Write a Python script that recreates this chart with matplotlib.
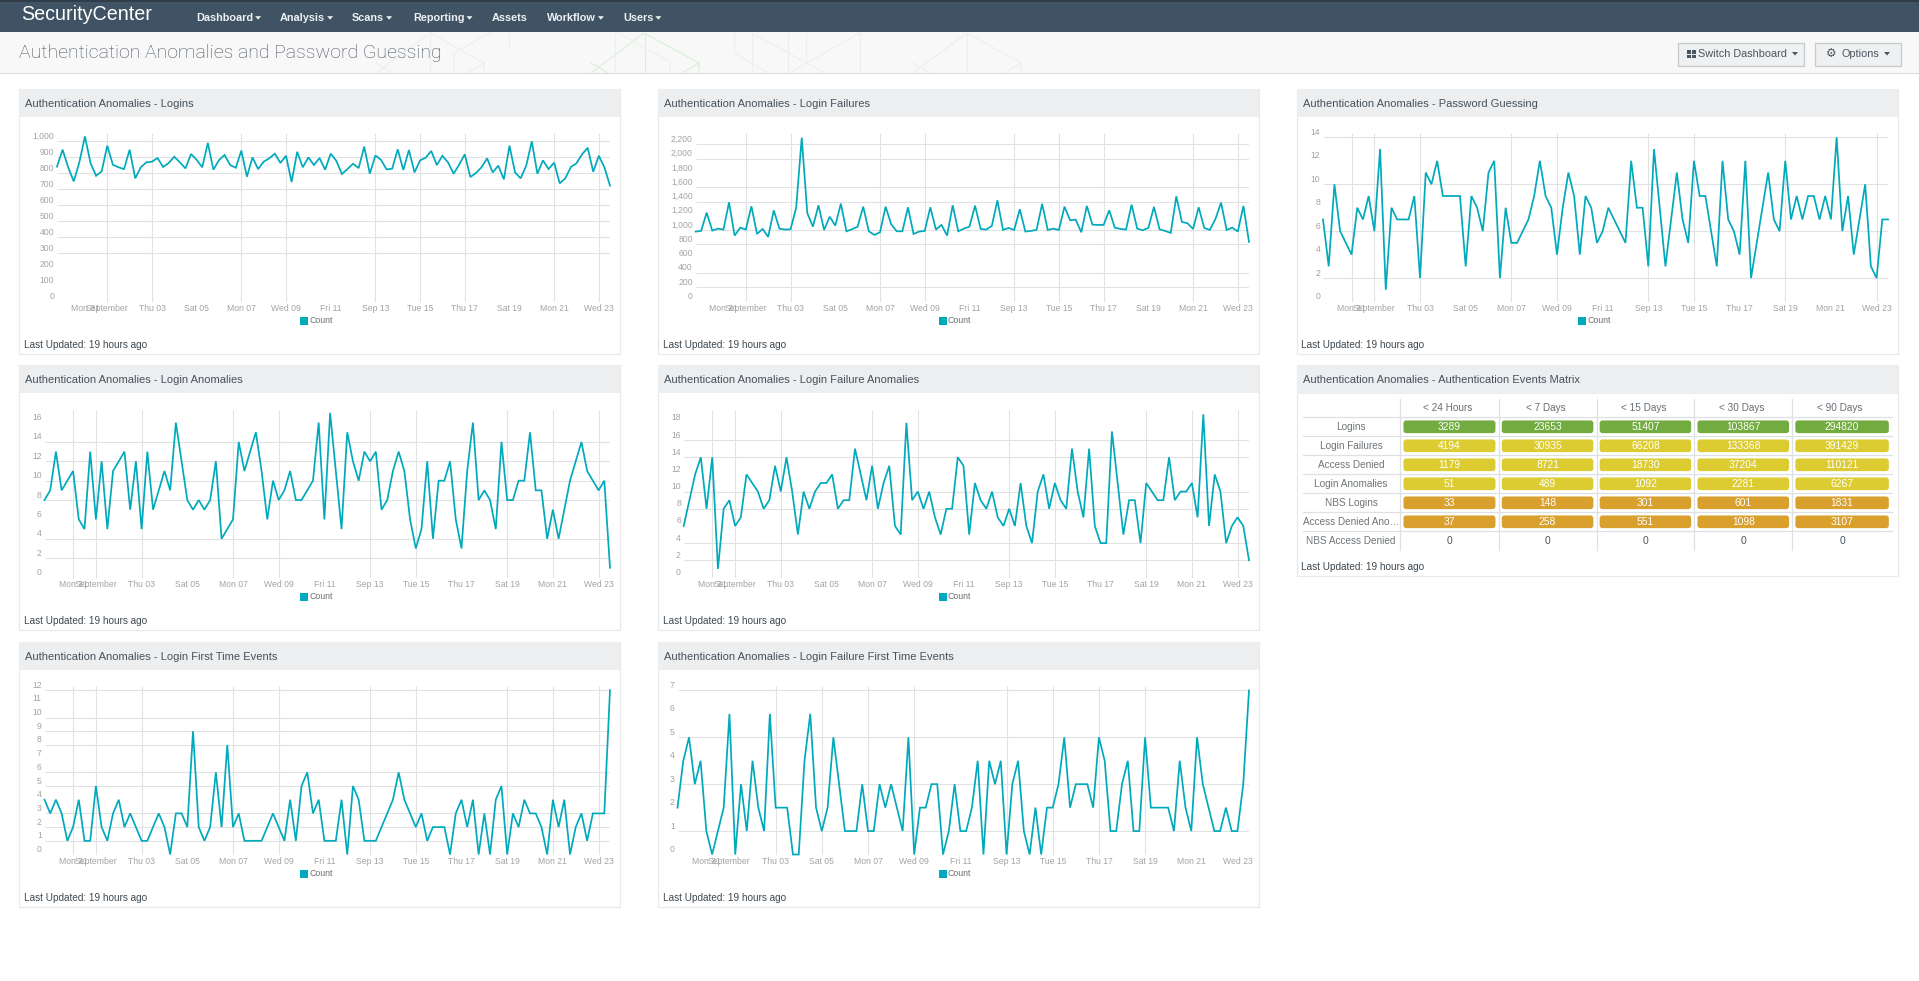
import matplotlib
matplotlib.use('Agg')
import matplotlib.pyplot as plt
from matplotlib.patches import Rectangle, FancyBboxPatch
from matplotlib.transforms import ScaledTranslation
import pandas as pd

plt.rcParams['font.family'] = ['Liberation Sans', 'DejaVu Sans']

W, H = 1919, 981

# 6 hour samples
times = pd.date_range('2015-08-29 18:00', periods=100, freq='6h')

logins = [842, 948, 838, 750, 869, 1031, 865, 785, 813, 973, 854, 838, 827, 948, 769, 838, 869, 873, 896, 840,
          865, 904, 869, 831, 921, 885, 838, 990, 823, 883, 915, 852, 835, 942, 779, 900, 827, 873, 894, 923,
          865, 910, 746, 935, 838, 900, 852, 896, 823, 923, 879, 796, 827, 860, 833, 967, 798, 912, 885, 825,
          829, 950, 821, 946, 806, 881, 898, 940, 852, 910, 869, 798, 854, 919, 777, 802, 838, 894, 806, 848,
          763, 973, 806, 769, 848, 1000, 798, 881, 827, 867, 738, 769, 840, 863, 919, 960, 810, 910, 838, 723]
login_failures = [979, 988, 1244, 993, 1020, 1007, 1389, 923, 1034, 1007, 1333, 946, 1016, 904, 1277, 1020, 1007, 1011, 1310, 2293,
                  1235, 1048, 1347, 1002, 1188, 1062, 1370, 983, 1011, 1048, 1328, 983, 932, 969, 1328, 1081, 983, 983, 1319, 946,
                  979, 988, 1319, 1007, 1072, 923, 1347, 983, 1020, 1048, 1342, 1016, 1007, 1058, 1417, 1002, 1030, 1002, 1291, 979,
                  988, 1002, 1366, 1002, 1020, 1002, 1328, 1137, 1146, 969, 1338, 1076, 1072, 1072, 1277, 1034, 1016, 1007, 1356, 1020,
                  997, 1030, 1324, 1011, 988, 960, 1473, 1114, 1095, 1016, 1319, 1030, 1002, 1156, 1384, 1002, 1034, 979, 1338, 834]
password_guessing = [7, 3, 10, 6, 5, 4, 8, 7, 9, 6, 13, 1, 8, 7, 7, 7, 9, 2, 11, 10,
                     12, 9, 9, 9, 9, 3, 9, 8, 6, 11, 12, 2, 8, 5, 5, 6, 7, 9, 12, 9,
                     8, 4, 8, 11, 9, 4, 9, 8, 5, 6, 8, 7, 6, 5, 12, 8, 8, 3, 13, 8,
                     3, 7, 11, 7, 5, 12, 9, 9, 6, 3, 12, 7, 6, 4, 12, 2, 5, 8, 11, 7,
                     6, 12, 7, 9, 7, 9, 9, 7, 9, 7, 14, 6, 9, 4, 7, 10, 3, 2, 7, 7]
login_anomalies = [8, 9, 13, 9, 10, 11, 6, 5, 13, 6, 12, 5, 11, 12, 13, 7, 12, 5, 13, 7,
                   9, 11, 9, 16, 12, 8, 7, 8, 7, 8, 12, 4, 5, 6, 14, 11, 13, 15, 11, 6,
                   10, 8, 9, 11, 8, 8, 9, 10, 16, 6, 17, 11, 5, 15, 12, 10, 13, 12, 13, 7,
                   8, 11, 13, 11, 6, 3, 5, 12, 4, 10, 10, 12, 6, 3, 11, 16, 8, 9, 8, 5,
                   14, 8, 8, 10, 10, 15, 9, 9, 4, 7, 4, 7, 10, 12, 14, 11, 10, 9, 10, 1]
failure_anomalies = [6, 9, 12, 14, 8, 14, 1, 8, 9, 6, 7, 12, 11, 10, 8, 9, 13, 10, 14, 10,
                     5, 10, 8, 10, 11, 11, 12, 8, 9, 9, 15, 12, 9, 13, 8, 11, 13, 6, 5, 18,
                     9, 10, 8, 10, 7, 5, 8, 8, 14, 13, 5, 11, 9, 8, 10, 7, 6, 8, 6, 11,
                     6, 4, 10, 12, 8, 11, 9, 8, 15, 10, 7, 15, 6, 4, 4, 17, 11, 5, 9, 9,
                     4, 11, 10, 9, 9, 14, 9, 10, 10, 11, 7, 19, 6, 12, 10, 4, 6, 7, 6, 2]
login_first_time = [4, 3, 4, 3, 1, 2, 4, 1, 1, 5, 2, 1, 3, 4, 2, 3, 2, 1, 1, 2,
                    3, 2, 0, 3, 3, 2, 9, 2, 1, 2, 6, 2, 8, 2, 3, 1, 1, 1, 1, 2,
                    3, 2, 1, 4, 1, 5, 6, 3, 4, 1, 1, 1, 4, 0, 5, 4, 1, 1, 1, 2,
                    3, 4, 6, 4, 3, 2, 3, 1, 2, 2, 2, 0, 3, 4, 2, 4, 0, 3, 0, 4,
                    5, 0, 3, 2, 4, 3, 3, 2, 0, 4, 2, 4, 0, 2, 3, 1, 3, 3, 3, 12]
failure_first_time = [2, 4, 5, 3, 4, 1, 0, 1, 2, 6, 0, 3, 1, 4, 2, 1, 6, 2, 2, 2,
                      0, 0, 4, 6, 2, 1, 2, 5, 3, 1, 1, 1, 3, 1, 1, 3, 2, 3, 2, 1,
                      5, 0, 2, 2, 3, 3, 0, 1, 3, 1, 1, 2, 4, 0, 4, 3, 4, 0, 3, 4,
                      1, 0, 2, 0, 2, 2, 3, 5, 2, 3, 3, 3, 2, 5, 4, 1, 1, 3, 4, 1,
                      1, 5, 2, 2, 2, 2, 1, 4, 2, 1, 5, 3, 2, 1, 1, 2, 1, 1, 3, 7]

x_tick_days = ['2015-08-31', '2015-09-01', '2015-09-03', '2015-09-05', '2015-09-07', '2015-09-09', '2015-09-11',
               '2015-09-13', '2015-09-15', '2015-09-17', '2015-09-19', '2015-09-21', '2015-09-23']
x_tick_labels = ['Mon 31', 'September', 'Thu 03', 'Sat 05', 'Mon 07', 'Wed 09', 'Fri 11',
                 'Sep 13', 'Tue 15', 'Thu 17', 'Sat 19', 'Mon 21', 'Wed 23']

# row labels and counts of the matrix
matrix_cols = ['< 24 Hours', '< 7 Days', '< 15 Days', '< 30 Days', '< 90 Days']
matrix_rows = ['Logins', 'Login Failures', 'Access Denied', 'Login Anomalies', 'NBS Logins',
               'Access Denied Ano…', 'NBS Access Denied']
logins_counts = [3289, 23653, 51407, 103867, 294820]
failures_counts = [4194, 30935, 66208, 133368, 391429]
denied_counts = [1179, 8721, 18730, 37204, 110121]
anomalies_counts = [51, 489, 1092, 2281, 6267]
nbs_counts = [33, 148, 301, 601, 1831]
denied_ano_counts = [37, 258, 551, 1098, 3107]
nbs_denied_counts = [0, 0, 0, 0, 0]
matrix_values = [logins_counts, failures_counts, denied_counts, anomalies_counts, nbs_counts,
                 denied_ano_counts, nbs_denied_counts]
matrix_colors = ['#72ab3f', '#dccc32', '#dccc32', '#dccc32', '#d9a02e', '#d9a02e', None]

nav_items = ['Dashboard', 'Analysis', 'Scans', 'Reporting', 'Assets', 'Workflow', 'Users']
nav_x = [196, 280, 352, 413, 492, 547, 623]
nav_caret = [True, True, True, True, False, True, True]

LINE = '#00a9bb'
GRID = '#e1e2e3'
LABEL = '#a3a3a3'
TEXT = '#47525c'

fig = plt.figure(figsize=(W / 100, H / 100), dpi=100, facecolor='white')

# page furniture in pixel coordinates
page = fig.add_axes([0, 0, 1, 1])
page.set_xlim(0, W)
page.set_ylim(H, 0)
page.axis('off')


def box(x0, y0, x1, y1, color, **kw):
    page.add_patch(Rectangle((x0, y0), x1 - x0, y1 - y0, facecolor=color, edgecolor='none', **kw))


def caret(x, y, color):
    page.fill([x - 3, x + 3, x], [y - 1.5, y - 1.5, y + 2], color=color, lw=0)


box(0, 0, W, 32, '#3f5364')
box(0, 0, W, 2, '#2f3d4a')
box(0, 32, W, 73, '#f8f8f8')
box(0, 73, W, 74, '#d8d9d9')

# faint hexagon pattern behind the page title
pale = '#eeeeee'
green = '#daefda'
pale_green = '#e9f3e9'
hex_lines = [
    ([376, 430, 484, 484], [73, 33, 63, 73], pale),
    ([376, 392], [63, 73], pale),
    ([430, 430], [33, 73], pale),
    ([454, 454, 490], [73, 53, 33], pale),
    ([484, 467], [63, 73], pale),
    ([509, 509], [33, 48], pale),
    ([591, 644, 699, 699], [73, 33, 63, 73], green),
    ([591, 608], [63, 73], green),
    ([699, 682], [63, 73], green),
    ([645, 645], [33, 73], green),
    ([619, 670, 670], [33, 62, 73], pale_green),
    ([615, 615], [33, 73], pale_green),
    ([735, 735, 768], [33, 53, 73], pale),
    ([752, 752], [33, 73], pale),
    ([752, 825], [33, 73], pale),
    ([860, 789], [33, 73], pale),
    ([788, 788], [33, 73], pale),
    ([806, 806], [33, 63], pale),
    ([860, 860], [33, 73], pale),
    ([913, 967, 1021, 1021], [73, 33, 63, 73], pale),
    ([913, 930], [63, 73], pale),
    ([1021, 1005], [63, 73], pale),
    ([967, 967], [33, 73], pale),
]
for hx, hy, col in hex_lines:
    page.plot(hx, hy, color=col, lw=0.8, zorder=1)

page.text(21, 15, 'SecurityCenter', color='white', fontsize=14.2, va='center')
for name, nx, has_caret in zip(nav_items, nav_x, nav_caret):
    t = page.text(nx, 17.7, name, color='#eef1f3', fontsize=7.8, va='center', weight='bold')
    if has_caret:
        w = t.get_window_extent(fig.canvas.get_renderer()).width
        caret(nx + w + 5, 17.7, '#eef1f3')
page.text(19, 53, 'Authentication Anomalies and Password Guessing', color='#46525d', fontsize=14,
          va='center', family=['Roboto', 'DejaVu Sans'], weight='light', zorder=3)

# dashboard buttons
for x0, x1 in [(1678, 1804), (1815, 1901)]:
    page.add_patch(Rectangle((x0, 42.5), x1 - x0, 23, facecolor='#eef0f1', edgecolor='#c6c9cb', lw=0.9))
for sx in (1687, 1692):
    for sy in (50, 54.5):
        box(sx, sy, sx + 4, sy + 3.8, '#4a5661')
page.text(1698, 54, 'Switch Dashboard', color='#4a5661', fontsize=7.8, va='center')
caret(1795, 53.5, '#4a5661')
page.text(1831, 53.5, '⚙', color='#4a5661', fontsize=8.5, va='center', ha='center', family='DejaVu Sans')
page.text(1841, 54, 'Options', color='#4a5661', fontsize=7.8, va='center')
caret(1887, 53.5, '#4a5661')


def panel(left, top, right, bottom, head_bottom, title, title_x):
    page.add_patch(Rectangle((left, top), right - left, bottom - top, facecolor='white', edgecolor='#e9e9e9', lw=0.9))
    box(left, top, right, head_bottom, '#eceef0')
    page.text(title_x, (top + head_bottom) / 2 + 0.7, title, color=TEXT, fontsize=8, va='center')
    page.text(left + 5 if left < 1290 else left + 4, bottom - 8.7, 'Last Updated: 19 hours ago', color='#3d4850',
              fontsize=7.2, va='center')


def line_panel(left, top, title, values, px_left, ax_top, ymax, y_ticks, y_labels, y_grid, x_grid):
    right = left + 601
    bottom = top + 265
    panel(left, top, right, bottom, top + 28, title, left + 6)
    # legend square and label
    box(left + 281, top + 228, left + 289, top + 236, LINE)
    page.text(left + 290, top + 231.5, 'Count', color='#6e6e6e', fontsize=6.3, va='center')

    px_right = right - 10
    ax_bottom = top + 212.5
    ax = fig.add_axes([px_left / W, 1 - ax_bottom / H, (px_right - px_left) / W, (ax_bottom - ax_top) / H])
    ax.patch.set_alpha(0)
    for s in ax.spines.values():
        s.set_visible(False)
    ax.plot(times, values, color=LINE, lw=1.25, solid_joinstyle='miter', clip_on=False, zorder=3)
    ax.set_xlim(times[0], times[-1])
    ax.set_ylim(0, ymax)
    ax.hlines(y_grid, times[0], times[-1], color=GRID, lw=0.8, zorder=1)
    ax.vlines(pd.to_datetime(x_grid), 0, ymax, color=GRID, lw=0.8, zorder=1)
    ax.set_xticks(pd.to_datetime(x_tick_days))
    ax.set_xticklabels(x_tick_labels)
    ax.set_yticks(y_ticks)
    ax.set_yticklabels(y_labels)
    ax.tick_params(length=0, labelsize=6.2, labelcolor=LABEL)
    ax.tick_params(axis='x', pad=2)
    ax.tick_params(axis='y', pad=2)
    # value labels sit a few pixels above their grid lines
    up = ScaledTranslation(0, 0.06, fig.dpi_scale_trans)
    for lab in ax.get_yticklabels():
        lab.set_transform(lab.get_transform() + up)
    return ax


grid_a = ['2015-09-01', '2015-09-03', '2015-09-07', '2015-09-09', '2015-09-13', '2015-09-15', '2015-09-17',
          '2015-09-21', '2015-09-23']
grid_b = ['2015-08-31', '2015-09-01', '2015-09-03', '2015-09-07', '2015-09-09', '2015-09-13', '2015-09-15',
          '2015-09-19', '2015-09-23']
grid_c = grid_b[:-1] + ['2015-09-21', '2015-09-23']
grid_d = ['2015-09-03', '2015-09-05', '2015-09-07', '2015-09-09', '2015-09-13', '2015-09-15', '2015-09-17',
          '2015-09-19']

line_panel(19, 89, 'Authentication Anomalies - Logins', logins, 57, 132.7, 1054,
           list(range(0, 1001, 100)), ['0', '100', '200', '300', '400', '500', '600', '700', '800', '900', '1,000'],
           [300, 400, 500, 600, 700, 800, 900, 1000], grid_a)
line_panel(658, 89, 'Authentication Anomalies - Login Failures', login_failures, 695.5, 133, 2359,
           list(range(0, 2201, 200)),
           ['0', '200', '400', '600', '800', '1,000', '1,200', '1,400', '1,600', '1,800', '2,000', '2,200'],
           [200, 400, 800, 1000, 1400, 1600, 2000, 2200], grid_a)
line_panel(1297, 89, 'Authentication Anomalies - Password Guessing', password_guessing, 1323, 132.7, 14.4,
           list(range(0, 15, 2)), ['0', '2', '4', '6', '8', '10', '12', '14'], [2, 6, 10, 14], grid_b)
line_panel(19, 365, 'Authentication Anomalies - Login Anomalies', login_anomalies, 44.5, 410, 17.3,
           list(range(0, 17, 2)), ['0', '2', '4', '6', '8', '10', '12', '14', '16'], [2, 4, 8, 10, 12, 14], grid_c)
line_panel(658, 365, 'Authentication Anomalies - Login Failure Anomalies', failure_anomalies, 683.7, 410, 19.5,
           list(range(0, 19, 2)), ['0', '2', '4', '6', '8', '10', '12', '14', '16', '18'],
           [2, 4, 8, 10, 14, 16], grid_c)
line_panel(19, 642, 'Authentication Anomalies - Login First Time Events', login_first_time, 44.5, 686, 12.3,
           list(range(0, 13)), ['0', '1', '2', '3', '4', '5', '6', '7', '8', '9', '10', '11', '12'],
           [1, 2, 3, 5, 6, 8, 9, 10, 12], grid_c)
line_panel(658, 642, 'Authentication Anomalies - Login Failure First Time Events', failure_first_time, 677.5, 686, 7.19,
           list(range(0, 8)), ['0', '1', '2', '3', '4', '5', '6', '7'], [1, 3, 5, 7], grid_d)

# events matrix
panel(1297, 365, 1898, 575.7, 394, 'Authentication Anomalies - Authentication Events Matrix', 1303)
col_edges = [1303, 1400.3, 1498.6, 1596.5, 1694.3, 1792.2, 1892]
row_edges = [399, 417.3, 436.3, 455.3, 474.3, 493.3, 512.3, 531.3, 550]
for cx in col_edges[1:-1]:
    page.plot([cx, cx], [row_edges[0], row_edges[-1]], color='#dfe0e1', lw=0.9)
for ry in row_edges[1:-1]:
    page.plot([col_edges[0], col_edges[-1]], [ry, ry], color='#dfe0e1', lw=0.9)
for j, name in enumerate(matrix_cols):
    page.text((col_edges[j + 1] + col_edges[j + 2]) / 2 - 2, 408, name, color='#666e75', fontsize=7.2,
              ha='center', va='center')
for i, name in enumerate(matrix_rows):
    ry = (row_edges[i + 1] + row_edges[i + 2]) / 2
    page.text(1351, ry, name, color='#6e7478', fontsize=7.2, ha='center', va='center')
    for j, val in enumerate(matrix_values[i]):
        x0, x1 = col_edges[j + 1], col_edges[j + 2]
        if matrix_colors[i]:
            page.add_patch(FancyBboxPatch((x0 + 4, ry - 5.5), x1 - x0 - 8, 11, boxstyle='round,pad=0,rounding_size=2',
                                          facecolor=matrix_colors[i], edgecolor=matrix_colors[i], lw=1.2))
        page.text((x0 + x1) / 2, ry, str(val), fontsize=7.4, ha='center', va='center',
                  color='white' if matrix_colors[i] else '#4a5661')

fig.savefig('out.png', dpi=100)
